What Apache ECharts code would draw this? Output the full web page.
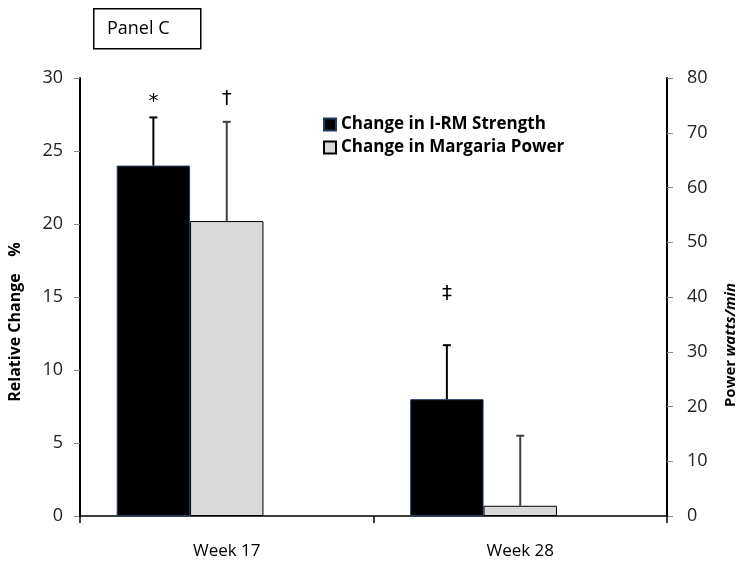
<!DOCTYPE html>
<html>
<head>
<meta charset="utf-8">
<script src="https://cdn.jsdelivr.net/npm/echarts@6/dist/echarts.min.js"></script>
<style>
  html, body { margin: 0; padding: 0; background: #fff; }
  #main { width: 750px; height: 564px; }
</style>
</head>
<body>
<div id="main"></div>
<script>
var categories = ['Week 17', 'Week 28'];
var strength = [24, 8];
var strengthSd = [3.3, 3.7];
var power = [20.2, 0.7];
var powerSd = [6.8, 4.8];
// significance marks and the height (in %) they sit at
var strengthMark = ['*', '\u2021'];
var strengthMarkAt = [28.4, 15.2];
var powerMark = ['\u2020', ''];
var powerMarkAt = [28.6, 0];
var leftTicks = [0, 30, 5];
var rightTicks = [0, 80, 10];

var font = '"Open Sans", sans-serif';

var errData = [];
for (var i = 0; i < categories.length; i++) {
  errData.push([i, 0, strength[i], strengthSd[i], strengthMarkAt[i]]);
  errData.push([i, 1, power[i], powerSd[i], powerMarkAt[i]]);
}
var marks = [];
for (var j = 0; j < categories.length; j++) {
  marks.push(strengthMark[j]);
  marks.push(powerMark[j]);
}

function renderErr(params, api) {
  var cat = api.value(0), slot = api.value(1);
  var mean = api.value(2), sd = api.value(3), markAt = api.value(4);
  var base = api.coord([cat, mean]);
  var bw = api.size([1, 0])[0] * 0.75 / 3;
  var x = base[0] + (slot - 1) * bw;
  var top = api.coord([cat, mean + sd])[1];
  var color = slot === 0 ? '#000' : '#404040';
  var children = [
    { type: 'line', shape: { x1: x, y1: base[1], x2: x, y2: top }, style: { stroke: color, lineWidth: 2 } },
    { type: 'line', shape: { x1: x - 4, y1: top, x2: x + 4, y2: top }, style: { stroke: color, lineWidth: 2 } }
  ];
  var m = marks[params.dataIndex];
  if (m) {
    children.push({
      type: 'text',
      style: {
        text: m, x: x, y: api.coord([cat, markAt])[1],
        align: 'center', verticalAlign: 'middle',
        fill: '#000', font: '20px "DejaVu Sans", sans-serif'
      }
    });
  }
  return { type: 'group', children: children };
}

var chart = echarts.init(document.getElementById('main'));
var option = {
  animation: false,
  backgroundColor: '#fff',
  grid: { left: 80, right: 83, top: 78, bottom: 48 },
  legend: {
    data: ['Change in I-RM Strength', 'Change in Margaria Power'],
    orient: 'vertical',
    left: 318, top: 111,
    itemWidth: 12, itemHeight: 12, itemGap: 6,
    icon: 'rect',
    textStyle: { fontFamily: font, fontWeight: 'bold', fontSize: 17, color: '#000', padding: [0, 0, 0, 0] }
  },
  xAxis: {
    type: 'category',
    data: categories,
    axisLine: { lineStyle: { color: '#000', width: 1.5 } },
    axisTick: { show: true, length: 7, lineStyle: { color: '#000', width: 1.5 } },
    axisLabel: { fontFamily: font, fontSize: 17, color: '#000', margin: 27 }
  },
  yAxis: [
    {
      type: 'value', min: leftTicks[0], max: leftTicks[1], interval: leftTicks[2],
      axisLine: { show: true, lineStyle: { color: '#000', width: 2 } },
      axisTick: { show: true, length: 6, lineStyle: { color: '#888' } },
      axisLabel: { fontFamily: font, fontSize: 18, color: '#222', margin: 17 },
      splitLine: { show: false }
    },
    {
      type: 'value', min: rightTicks[0], max: rightTicks[1], interval: rightTicks[2],
      position: 'right',
      axisLine: { show: true, lineStyle: { color: '#000', width: 2 } },
      axisTick: { show: true, length: 6, lineStyle: { color: '#888' } },
      axisLabel: { fontFamily: font, fontSize: 18, color: '#222', margin: 20 },
      splitLine: { show: false }
    }
  ],
  series: [
    {
      name: 'Change in I-RM Strength', type: 'bar', data: strength,
      barGap: '0%', barCategoryGap: '25%',
      itemStyle: { color: '#000', borderColor: '#1f3864', borderWidth: 1 }
    },
    {
      name: 'Change in Margaria Power', type: 'bar', data: power,
      itemStyle: { color: '#d9d9d9', borderColor: '#000', borderWidth: 1 }
    },
    {
      name: 'spacer', type: 'bar', data: [null, null]
    },
    {
      name: 'errors', type: 'custom', data: errData, renderItem: renderErr, z: 5,
      encode: { x: 0, y: 2 }
    }
  ],
  graphic: [
    { type: 'rect', left: 93, top: 8, shape: { width: 107, height: 40 },
      style: { fill: '#fff', stroke: '#000', lineWidth: 1.5 } },
    { type: 'text', left: 107, top: 20,
      style: { text: 'Panel C', font: '18px ' + font, fill: '#000' } },
    { type: 'text', x: 15, y: 322, rotation: Math.PI / 2,
      style: { text: 'Relative Change    %', font: 'bold 16px ' + font, fill: '#000',
               align: 'center', verticalAlign: 'middle' } },
    { type: 'text', x: 731, y: 345, rotation: Math.PI / 2,
      style: {
        text: '{a|Power} {b|watts/min}', align: 'center', verticalAlign: 'middle',
        rich: {
          a: { font: 'bold 15px ' + font, fill: '#000' },
          b: { font: 'italic bold 15px ' + font, fill: '#000' }
        }
      } }
  ]
};
chart.setOption(option);
</script>
</body>
</html>
